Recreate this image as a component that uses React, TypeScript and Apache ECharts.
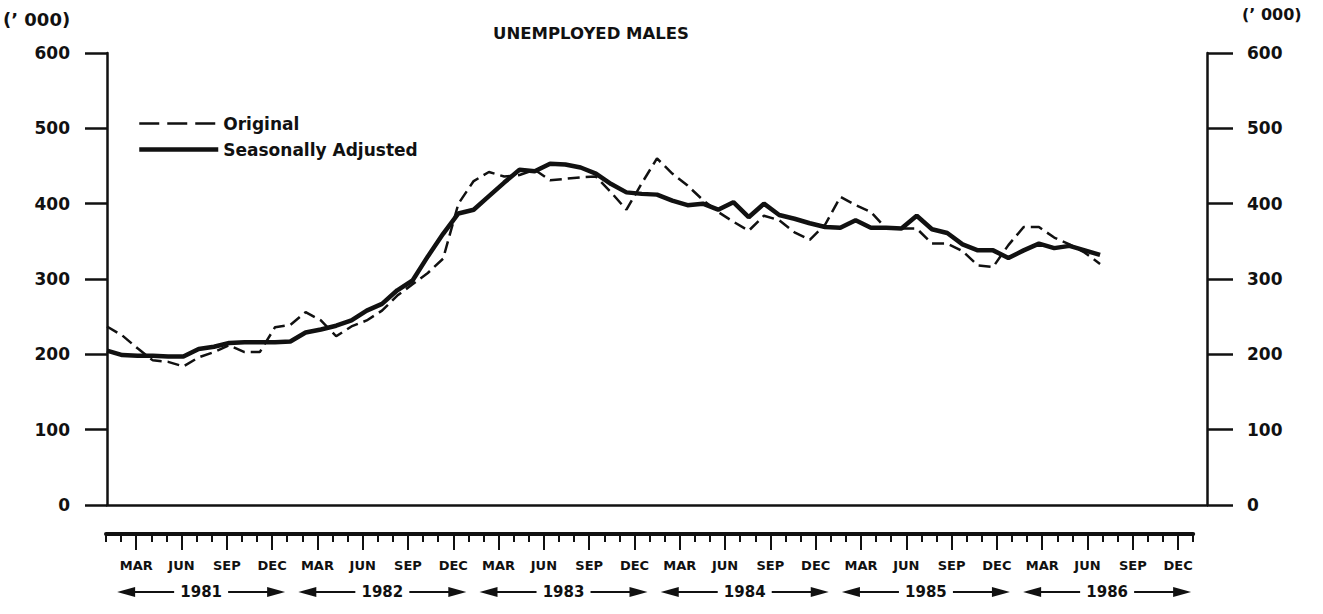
import React, { useEffect, useRef } from "react";
import * as echarts from "echarts";

const MONTHS = ["JAN", "FEB", "MAR", "APR", "MAY", "JUN", "JUL", "AUG", "SEP", "OCT", "NOV", "DEC"];
const YEARS = [1981, 1982, 1983, 1984, 1985, 1986];
const QUARTER_MONTHS = ["MAR", "JUN", "SEP", "DEC"];
const Y_TICKS = { min: 0, max: 600, step: 100 };

// Monthly, Jan 1981 .. Jun 1986 (thousands)
const original = [
  237, 225, 208, 192, 190, 184, 196, 203, 212, 203, 203, 236,
  239, 256, 245, 224, 237, 245, 258, 278, 293, 308, 327, 400,
  430, 442, 436, 438, 445, 431, 433, 435, 436, 415, 392, 427,
  460, 440, 424, 405, 389, 376, 364, 384, 378, 362, 352, 372,
  409, 398, 389, 367, 367, 367, 347, 347, 337, 318, 316, 345,
  369, 369, 355, 346, 335, 320,
];
const seasonallyAdjusted = [
  205, 199, 198, 198, 197, 197, 207, 210, 215, 216, 216, 216,
  217, 229, 233, 238, 245, 258, 267, 285, 298, 330, 360, 387,
  392, 410, 428, 445, 443, 453, 452, 448, 440, 426, 415, 413,
  412, 404, 398, 400, 392, 402, 382, 400, 385, 380, 374, 369,
  368, 378, 368, 368, 367, 384, 366, 361, 346, 338, 338, 328,
  338, 347, 341, 344, 338, 332,
];

const categories = YEARS.flatMap((y) => MONTHS.map((m) => `${m} ${y}`)).concat([`JAN ${YEARS[YEARS.length - 1] + 1}`]);

const FONT = '"DejaVu Sans", sans-serif';
const INK = "#111";

// ruler layout
const RL = 106;
const RS = 15.1;
const RTOP = 534;

export default function App() {
  const ref = useRef<HTMLDivElement>(null);
  useEffect(() => {
    if (!ref.current) return;
    const chart = echarts.init(ref.current, null, { renderer: "svg" });

    const yearGraphics: any[] = [];
    YEARS.forEach((yr, i) => {
      const cx = RL + (6.3 + 12 * i) * RS;
      const cy = 592;
      yearGraphics.push(
        { type: "text", x: cx, y: cy, style: { text: String(yr), font: `bold 15px ${FONT}`, fill: INK, align: "center", verticalAlign: "middle" } },
        { type: "line", shape: { x1: cx - 68, y1: cy, x2: cx - 27, y2: cy }, style: { stroke: INK, lineWidth: 2 } },
        { type: "line", shape: { x1: cx + 27, y1: cy, x2: cx + 68, y2: cy }, style: { stroke: INK, lineWidth: 2 } },
        { type: "polygon", shape: { points: [[cx - 84, cy], [cx - 66, cy - 5], [cx - 66, cy + 5]] }, style: { fill: INK } },
        { type: "polygon", shape: { points: [[cx + 84, cy], [cx + 66, cy - 5], [cx + 66, cy + 5]] }, style: { fill: INK } }
      );
    });

    const yAxisCommon = {
      type: "value",
      min: Y_TICKS.min,
      max: Y_TICKS.max,
      interval: Y_TICKS.step,
      gridIndex: 0,
      splitLine: { show: false },
      axisLine: { show: true, lineStyle: { color: INK, width: 2.5 } },
      axisLabel: { color: INK, fontFamily: FONT, fontWeight: "bold", fontSize: 17 },
    };

    const option: any = {
      animation: false,
      backgroundColor: "#fff",
      title: {
        text: "UNEMPLOYED MALES",
        left: 591,
        top: 25,
        textAlign: "center",
        padding: 0,
        textStyle: { fontFamily: FONT, fontWeight: "bold", fontSize: 16.5, color: INK },
      },
      legend: {
        orient: "vertical",
        left: 132,
        top: 110,
        itemWidth: 79,
        itemHeight: 14,
        itemGap: 9,
        itemStyle: { opacity: 0 },
        data: [
          { name: "Original", lineStyle: { color: INK, width: 2.5, type: [20, 8] } },
          { name: "Seasonally Adjusted", lineStyle: { color: INK, width: 4.5, type: "solid" } },
        ],
        textStyle: { fontFamily: FONT, fontWeight: "bold", fontSize: 17, color: INK, padding: [0, 0, 0, 0] },
      },
      grid: [
        { left: 107, top: 53, width: 1100, height: 452 },
        { left: RL, top: RTOP, width: 72 * RS, height: 0.01 },
        { left: RL, top: RTOP, width: 72 * RS, height: 0.01 },
      ],
      xAxis: [
        {
          type: "category",
          gridIndex: 0,
          data: categories,
          boundaryGap: false,
          axisLine: { show: true, onZero: false, lineStyle: { color: INK, width: 2.5 } },
          axisTick: { show: false },
          axisLabel: { show: false },
          splitLine: { show: false },
        },
        {
          type: "category",
          gridIndex: 1,
          data: categories,
          boundaryGap: false,
          axisLine: { show: true, onZero: false, lineStyle: { color: INK, width: 4 } },
          axisTick: { show: true, interval: 0, length: 8, lineStyle: { color: INK, width: 2 } },
          axisLabel: {
            show: true,
            interval: (i: number) => QUARTER_MONTHS.includes(categories[i].slice(0, 3)) && i < 72,
            formatter: (v: string) => v.slice(0, 3),
            margin: 25,
            color: INK,
            fontFamily: FONT,
            fontWeight: "bold",
            fontSize: 13,
          },
        },
        {
          type: "category",
          gridIndex: 2,
          data: categories,
          boundaryGap: false,
          axisLine: { show: false },
          axisTick: {
            show: true,
            interval: (i: number) => QUARTER_MONTHS.includes(categories[i].slice(0, 3)) && i < 72,
            length: 16,
            lineStyle: { color: INK, width: 2 },
          },
          axisLabel: { show: false },
        },
      ],
      yAxis: [
        {
          ...yAxisCommon,
          position: "left",
          axisTick: { show: true, length: 22, lineStyle: { color: INK, width: 2.5 } },
          axisLabel: { ...yAxisCommon.axisLabel, margin: 37 },
        },
        {
          ...yAxisCommon,
          position: "right",
          axisTick: { show: true, length: 26, lineStyle: { color: INK, width: 2.5 } },
          axisLabel: { ...yAxisCommon.axisLabel, margin: 40 },
        },
        { type: "value", gridIndex: 1, show: false },
        { type: "value", gridIndex: 2, show: false },
      ],
      series: [
        {
          name: "Original",
          type: "line",
          xAxisIndex: 0,
          yAxisIndex: 0,
          data: original,
          symbol: "none",
          lineStyle: { color: INK, width: 2.5, type: [12, 6] },
          itemStyle: { color: INK },
          z: 2,
        },
        {
          name: "Seasonally Adjusted",
          type: "line",
          xAxisIndex: 0,
          yAxisIndex: 0,
          data: seasonallyAdjusted,
          symbol: "none",
          lineStyle: { color: INK, width: 4.5 },
          itemStyle: { color: INK },
          z: 3,
        },
      ],
      graphic: [
        { type: "text", x: 3, y: 19, style: { text: "(\u2019 000)", font: `bold 18px ${FONT}`, fill: INK, verticalAlign: "middle" } },
        { type: "text", x: 1242, y: 14, style: { text: "(\u2019 000)", font: `bold 16px ${FONT}`, fill: INK, verticalAlign: "middle" } },
        ...yearGraphics,
      ],
    };
    chart.setOption(option);
    return () => chart.dispose();
  }, []);
  return <div ref={ref} style={{ position: "fixed", left: 0, top: 0, width: 1323, height: 614, background: "#fff" }} />;
}
